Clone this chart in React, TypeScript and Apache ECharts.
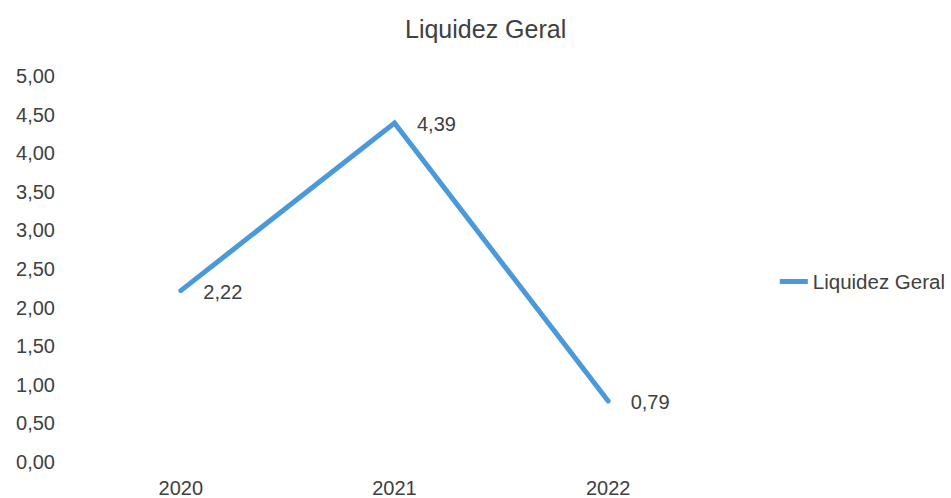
import React, { useEffect, useRef } from "react";
import * as echarts from "echarts";

const categories = ["2020", "2021", "2022"];
const seriesName = "Liquidez Geral";
const values = [2.22, 4.39, 0.79];
const chartTitle = "Liquidez Geral";

const FONT = "'Liberation Sans', Arial, sans-serif";
const TEXT = "#404040";
const LINE = "#4a99da";

const fmt = (v: number) => v.toFixed(2).replace(".", ",");

export default function App() {
  const ref = useRef<HTMLDivElement>(null);
  useEffect(() => {
    if (!ref.current) return;
    const chart = echarts.init(ref.current, undefined, { renderer: "svg" });
    chart.setOption({
      animation: false,
      backgroundColor: "#ffffff",
      textStyle: { fontFamily: FONT, color: TEXT },
      title: {
        text: chartTitle,
        left: 405,
        top: 16,
        padding: 0,
        textStyle: { fontFamily: FONT, fontSize: 25, fontWeight: "normal", color: TEXT },
      },
      legend: {
        data: [seriesName],
        right: 6,
        top: 271,
        padding: 0,
        icon: "rect",
        itemWidth: 28,
        itemHeight: 5,
        itemGap: 10,
        itemStyle: { color: LINE, opacity: 1, borderWidth: 0 },
        lineStyle: { opacity: 0 },
        textStyle: { fontFamily: FONT, fontSize: 20.5, color: TEXT, padding: [0, 0, 0, 0] },
      },
      grid: { left: 74, width: 641, top: 76, height: 386, containLabel: false },
      xAxis: {
        type: "category",
        data: categories,
        boundaryGap: true,
        axisLine: { show: false },
        axisTick: { show: false },
        splitLine: { show: false },
        axisLabel: { fontFamily: FONT, fontSize: 20, color: TEXT, margin: 16 },
      },
      yAxis: {
        type: "value",
        min: 0,
        max: 5,
        interval: 0.5,
        axisLine: { show: false },
        axisTick: { show: false },
        splitLine: { show: false },
        axisLabel: {
          fontFamily: FONT,
          fontSize: 20,
          color: TEXT,
          margin: 19,
          formatter: (v: number) => fmt(v),
        },
      },
      series: [
        {
          name: seriesName,
          type: "line",
          data: values,
          symbol: "circle",
          symbolSize: 1,
          showSymbol: true,
          lineStyle: { color: LINE, width: 5, cap: "round", join: "miter" },
          itemStyle: { color: LINE, opacity: 0 },
          label: {
            show: true,
            position: "right",
            distance: 22,
            offset: [0, 1],
            fontFamily: FONT,
            fontSize: 20,
            color: TEXT,
            opacity: 1,
            formatter: (p: any) => fmt(p.value),
          },
        },
      ],
    });
    return () => chart.dispose();
  }, []);
  return (
    <div
      ref={ref}
      style={{ position: "fixed", left: 0, top: 0, width: 951, height: 498, background: "#fff" }}
    />
  );
}
